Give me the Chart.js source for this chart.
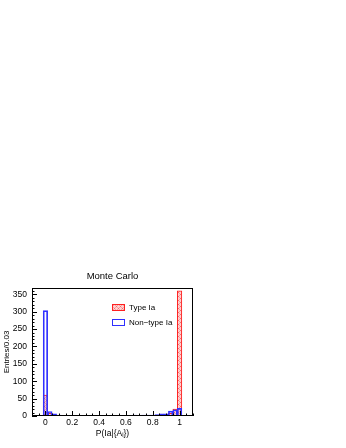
<!DOCTYPE html>
<html>
<head>
<meta charset="utf-8">
<script src="https://cdn.jsdelivr.net/npm/chart.js@4.4.1/dist/chart.umd.min.js"></script>
<style>
  html, body { margin: 0; padding: 0; background: #fff; }
  #wrap { position: absolute; left: 0; top: 262px; width: 200px; height: 183px; }
</style>
</head>
<body>
<div id="wrap"><canvas id="myChart"></canvas></div>
<script>
// bin centres: 0, 1/30, ..., 1 (31 bins of width ~0.03)
const binCenters = Array.from({ length: 31 }, (_, k) => k / 30);
const typeIa = [60, 8, 3, 2, 1, 1, 0, 1, 1, 1, 0, 1, 1, 1, 1, 1, 0, 1, 1, 1, 1, 1, 2, 1, 2, 2, 3, 5, 8, 20, 360];
const nonTypeIa = [303, 13, 6, 3, 2, 2, 1, 1, 2, 1, 1, 2, 1, 2, 2, 1, 1, 1, 2, 2, 3, 2, 3, 3, 3, 4, 6, 6, 14, 18, 22];
const xTicks = [0, 0.2, 0.4, 0.6, 0.8, 1];
const yTicks = [0, 50, 100, 150, 200, 250, 300, 350];

const FONT = 'Liberation Sans, Arial, sans-serif';

// pink cross-hatch fill for the Type Ia histogram
function makeHatch() {
    const c = document.createElement('canvas');
    c.width = 4; c.height = 4;
    const g = c.getContext('2d');
    g.fillStyle = '#ffd0d0';
    g.fillRect(0, 0, 4, 4);
    g.fillStyle = '#f07070';
    g.fillRect(0, 0, 1, 1);
    g.fillRect(2, 2, 1, 1);
    g.fillStyle = '#f8a0a0';
    g.fillRect(1, 1, 1, 1);
    g.fillRect(3, 3, 1, 1);
    g.fillRect(1, 3, 1, 1);
    g.fillRect(3, 1, 1, 1);
    return g.createPattern(c, 'repeat');
}
const hatch = makeHatch();

// frame, inner ticks, title and legend drawn ROOT-style
const rootStyle = {
    id: 'rootStyle',
    afterDatasetsDraw(chart) {
        const { ctx, chartArea: a, scales } = chart;
        ctx.save();
        // baseline
        ctx.strokeStyle = '#3030ff';
        ctx.lineWidth = 1;
        ctx.beginPath();
        ctx.moveTo(a.left, Math.round(a.bottom) - 0.5);
        ctx.lineTo(a.right, Math.round(a.bottom) - 0.5);
        ctx.stroke();

        ctx.strokeStyle = '#000';
        ctx.strokeRect(Math.round(a.left) + 0.5, Math.round(a.top) + 0.5,
            Math.round(a.right - a.left) - 1, Math.round(a.bottom - a.top) - 1);

        ctx.beginPath();
        for (let v = 0; v <= 360; v += 10) {
            const y = Math.round(scales.y.getPixelForValue(v)) + 0.5;
            const len = v % 50 === 0 ? 5 : 2.5;
            ctx.moveTo(a.left, y);
            ctx.lineTo(a.left + len, y);
        }
        for (let v = -0.1; v <= 1.1001; v += 0.05) {
            const x = Math.round(scales.x.getPixelForValue(v)) + 0.5;
            const major = Math.abs(Math.round(v * 10) / 10 - v) < 1e-6 && Math.round(v * 10) % 2 === 0;
            const len = major ? 5 : 2.5;
            ctx.moveTo(x, a.bottom);
            ctx.lineTo(x, a.bottom - len);
        }
        ctx.stroke();

        // title
        ctx.fillStyle = '#000';
        ctx.font = '9.5px ' + FONT;
        ctx.textAlign = 'center';
        ctx.textBaseline = 'middle';
        ctx.fillText('Monte Carlo', (a.left + a.right) / 2, 14);

        // legend
        ctx.font = '8px ' + FONT;
        ctx.textAlign = 'left';
        ctx.fillStyle = hatch;
        ctx.fillRect(112, 42, 13, 7);
        ctx.strokeStyle = '#ff2020';
        ctx.strokeRect(112.5, 42.5, 12, 6);
        ctx.strokeStyle = '#3030ff';
        ctx.strokeRect(112.5, 57.5, 12, 6);
        ctx.fillStyle = '#000';
        ctx.fillText('Type Ia', 129, 46);
        ctx.fillText('Non\u2212type Ia', 129, 61);
        ctx.restore();
    }
};

const ctx = document.getElementById('myChart').getContext('2d');
const myChart = new Chart(ctx, {
    type: 'bar',
    data: {
        datasets: [{
            label: 'Non\u2212type Ia',
            data: binCenters.map((x, i) => ({ x: x, y: nonTypeIa[i] })),
            backgroundColor: 'rgba(0,0,0,0)',
            borderColor: '#3030ff',
            borderWidth: 1,
            order: 0
        }, {
            label: 'Type Ia',
            data: binCenters.map((x, i) => ({ x: x, y: typeIa[i] })),
            backgroundColor: hatch,
            borderColor: '#ff2020',
            borderWidth: 1,
            order: 1
        }]
    },
    options: {
        responsive: true,
        maintainAspectRatio: false,
        animation: false,
        devicePixelRatio: 1,
        layout: { padding: { top: 26, right: 7, left: 0, bottom: 0 } },
        datasets: {
            bar: { grouped: false, barPercentage: 1, categoryPercentage: 1 }
        },
        plugins: {
            legend: { display: false },
            tooltip: { enabled: false },
            title: { display: false }
        },
        scales: {
            x: {
                type: 'linear',
                min: -0.1,
                max: 1.1,
                offset: false,
                grid: { display: false, drawTicks: false, tickLength: 0 },
                border: { display: false },
                afterBuildTicks: (s) => { s.ticks = xTicks.map(v => ({ value: v })); },
                afterFit: (s) => { s.height = 29; },
                ticks: {
                    padding: 2,
                    color: '#000',
                    font: { family: FONT, size: 8.5 },
                    maxRotation: 0,
                    autoSkip: false,
                    callback: (v) => String(Math.round(v * 10) / 10)
                },
                title: {
                    display: true,
                    text: 'P(Ia|{A\u1d62})',
                    color: '#000',
                    font: { family: FONT, size: 8.5 },
                    padding: { top: 0, bottom: 6 }
                }
            },
            y: {
                min: 0,
                max: 368,
                grid: { display: false, drawTicks: false, tickLength: 0 },
                border: { display: false },
                afterBuildTicks: (s) => { s.ticks = yTicks.map(v => ({ value: v })); },
                afterFit: (s) => { s.width = 32; },
                ticks: {
                    padding: 5,
                    color: '#000',
                    font: { family: FONT, size: 8.5 }
                },
                title: {
                    display: true,
                    text: 'Entries/0.03',
                    color: '#000',
                    font: { family: FONT, size: 8 },
                    padding: { top: 2, bottom: 0 }
                }
            }
        }
    },
    plugins: [rootStyle]
});
</script>
</body>
</html>
